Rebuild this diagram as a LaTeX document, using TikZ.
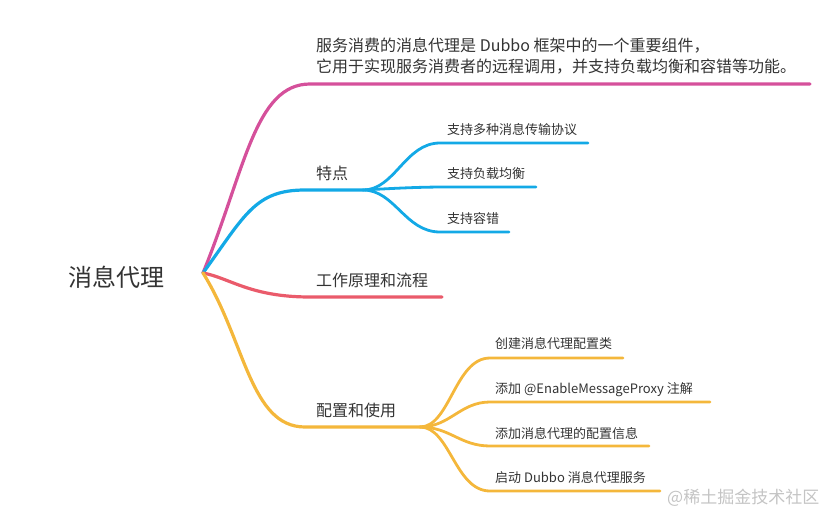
\documentclass[tikz,border=0pt]{standalone}
\usepackage{fontspec}
\setmainfont{Noto Sans CJK SC}
\usetikzlibrary{positioning}
\definecolor{textgray}{HTML}{333333}
\definecolor{markgray}{HTML}{C4C4C4}
\definecolor{pinkbr}{HTML}{D5509B}
\definecolor{bluebr}{HTML}{13A9E6}
\definecolor{redbr}{HTML}{EA5B6B}
\definecolor{orangebr}{HTML}{F4B73B}

\begin{document}
\begin{tikzpicture}[
    x=1pt, y=-1pt,
    rootnode/.style={inner sep=0pt, anchor=base west, text=textgray, font=\fontsize{24}{28}\selectfont},
    topicnode/.style={inner sep=0pt, anchor=base west, text=textgray, font=\fontsize{16}{21}\selectfont},
    subnode/.style={inner sep=0pt, anchor=base west, text=textgray, font=\fontsize{13}{16}\selectfont},
    mainline/.style={line width=3.2pt, line cap=round},
    subline/.style={line width=2.8pt, line cap=round}
]
    \useasboundingbox (0,0) rectangle (840,522);

    % Root
    \node[rootnode] (root) at (68,286) {消息代理};
    \coordinate (hub) at (203,273);

    % Topics
    \node[topicnode, align=left] (desc) at (316,72) {服务消费的消息代理是 Dubbo 框架中的一个重要组件，\\它用于实现服务消费者的远程调用，并支持负载均衡和容错等功能。};
    \node[topicnode] (feat) at (316,179) {特点};
    \node[topicnode] (flow) at (316,286) {工作原理和流程};
    \node[topicnode] (use) at (316,416) {配置和使用};

    \coordinate (descend) at (810,84);
    \coordinate (featfork) at (363,190);
    \coordinate (flowend) at (442,297);
    \coordinate (usefork) at (420,427);

    % Feature items
    \node[subnode] (proto) at (447,134) {支持多种消息传输协议};
    \node[subnode] (balance) at (447,178) {支持负载均衡};
    \node[subnode] (fault) at (447,223) {支持容错};
    \coordinate (protoend) at (588,143);
    \coordinate (balanceend) at (536,187);
    \coordinate (faultend) at (509,232);

    % Usage items
    \node[subnode] (create) at (495,348) {创建消息代理配置类};
    \node[subnode] (annot) at (495,393) {添加 @EnableMessageProxy 注解};
    \node[subnode] (config) at (495,438) {添加消息代理的配置信息};
    \node[subnode] (start) at (495,482) {启动 Dubbo 消息代理服务};
    \coordinate (createend) at (623,358);
    \coordinate (annotend) at (710,402);
    \coordinate (configend) at (649,446);
    \coordinate (startend) at (660,491);

    % Branches
    \draw[mainline, pinkbr] (hub) .. controls (245,170) and (255,84) .. (310,84) -- (descend);
    \draw[mainline, bluebr] (hub) .. controls (245,215) and (255,190) .. (305,190) -- (featfork);
    \draw[mainline, redbr] (hub) .. controls (230,278) and (250,297) .. (310,297) -- (flowend);
    \draw[mainline, orangebr] (hub) .. controls (245,340) and (250,427) .. (305,427) -- (usefork);

    % Sub branches
    \draw[subline, bluebr] (featfork) .. controls (395,190) and (405,143) .. (440,143) -- (protoend);
    \draw[subline, bluebr] (featfork) .. controls (400,188) and (420,187) .. (447,187) -- (balanceend);
    \draw[subline, bluebr] (featfork) .. controls (395,190) and (405,232) .. (440,232) -- (faultend);
    \draw[subline, orangebr] (usefork) .. controls (450,427) and (455,358) .. (490,358) -- (createend);
    \draw[subline, orangebr] (usefork) .. controls (450,427) and (460,402) .. (490,402) -- (annotend);
    \draw[subline, orangebr] (usefork) .. controls (450,427) and (460,446) .. (490,446) -- (configend);
    \draw[subline, orangebr] (usefork) .. controls (450,427) and (455,491) .. (490,491) -- (startend);

    % Watermark
    \node[inner sep=0pt, anchor=base west, text=markgray, font=\fontsize{17}{20}\selectfont] (mark) at (667,503) {@稀土掘金技术社区};
\end{tikzpicture}
\end{document}
